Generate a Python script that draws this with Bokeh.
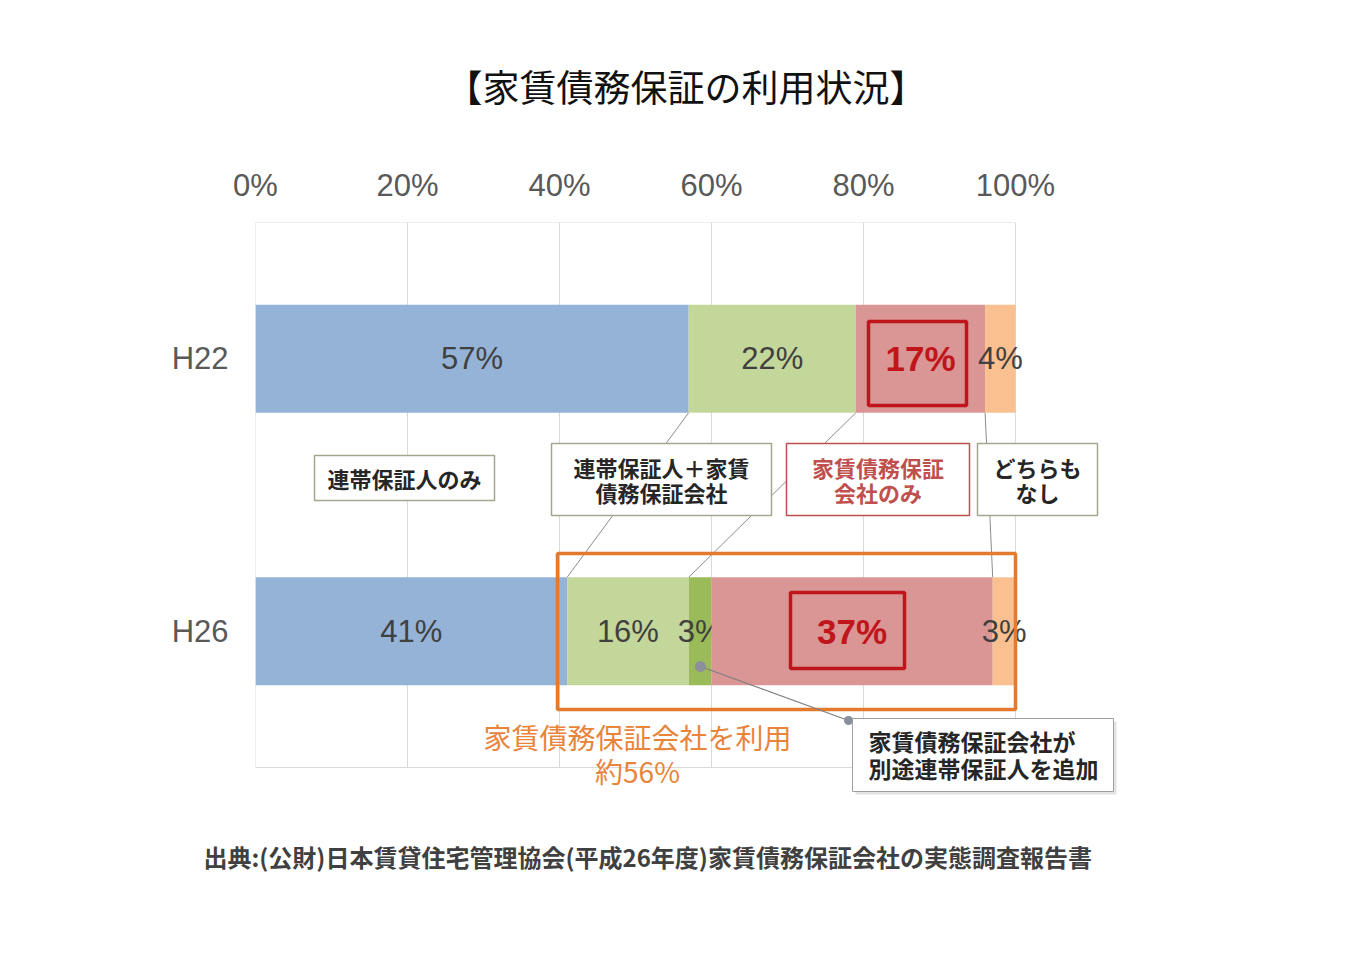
from bokeh.plotting import figure
from bokeh.models import Range1d, FixedTicker, NumeralTickFormatter, Title
from bokeh.core.properties import value
from bokeh.embed import file_html
from bokeh.resources import INLINE

# ---------------- data ----------------
categories = ["H22", "H26"]
series_names = ["連帯保証人のみ", "連帯保証人＋家賃債務保証会社", "家賃債務保証会社が別途連帯保証人を追加",
                "家賃債務保証会社のみ", "どちらもなし"]
h22_values = [57, 22, 0, 17, 4]
h26_values = [41, 16, 3, 37, 3]
series_colors = ["#95b3d7", "#c4d79b", "#9bbb59", "#d99694", "#fac090"]
x_ticks = [0, 0.2, 0.4, 0.6, 0.8, 1.0]
highlight_series = 3

title_text = "【家賃債務保証の利用状況】"
source_text = "出典:(公財)日本賃貸住宅管理協会(平成26年度)家賃債務保証会社の実態調査報告書"
box_texts = ["連帯保証人のみ", "連帯保証人＋家賃\n債務保証会社", "家賃債務保証\n会社のみ", "どちらも\nなし"]
orange_text = "家賃債務保証会社を利用\n約56%"
callout_text = "家賃債務保証会社が\n別途連帯保証人を追加"

W, H = 1356, 958
JP = "Noto Sans CJK JP"
NUM = "Liberation Sans"

# pixel -> data helpers for annotation placement
def X(px):
    return (px - 255) / 760.0

def Y(py):
    return (767 - py) / 272.5

p = figure(width=W, height=H, output_backend="svg", toolbar_location=None,
           x_axis_location="above",
           x_range=Range1d(0, 1.25), y_range=Range1d(-(800 - 767) / 272.5, 2.0),
           min_border_left=255, min_border_right=151, min_border_top=222, min_border_bottom=158)
p.outline_line_color = None
p.background_fill_color = "white"
p.border_fill_color = "white"
p.grid.visible = False

xa = p.xaxis[0]
xa.ticker = FixedTicker(ticks=x_ticks)
xa.formatter = NumeralTickFormatter(format="0%")
xa.axis_line_color = None
xa.major_tick_line_color = None
xa.minor_tick_line_color = None
xa.major_tick_out = 0
xa.major_tick_in = 0
xa.major_label_text_font = NUM
xa.major_label_text_font_size = "31px"
xa.major_label_text_color = "#595959"
xa.major_label_standoff = 20

ya = p.yaxis[0]
n = len(categories)
ypos = [n - i - 0.5 for i in range(n)]
ya.ticker = FixedTicker(ticks=ypos)
ya.major_label_overrides = {ypos[i]: categories[i] for i in range(n)}
ya.axis_line_color = None
ya.major_tick_line_color = None
ya.minor_tick_line_color = None
ya.major_tick_out = 0
ya.major_tick_in = 0
ya.major_label_text_font = NUM
ya.major_label_text_font_size = "31px"
ya.major_label_text_color = "#595959"
ya.major_label_standoff = 27

# title (above) and source (below)
t = Title(text=title_text, align="left", offset=190, standoff=104, text_font=JP,
          text_font_size="37px", text_font_style="normal", text_color="#111111")
p.add_layout(t, "above")
s = Title(text=source_text, align="left", offset=-52, standoff=72, text_font=JP,
          text_font_size="24px", text_font_style="bold", text_color="#404040")
p.add_layout(s, "below")

# gridlines and frame (within chart area only)
p.segment(x0=x_ticks, y0=[0] * len(x_ticks), x1=x_ticks, y1=[2] * len(x_ticks),
          line_color="#d9d9d9", line_width=1)
p.segment(x0=[0, 0], y0=[0, 2], x1=[1, 1], y1=[0, 2], line_color="#d9d9d9", line_width=1)

bar_h = 0.396
rows = [h22_values, h26_values]

# series connector lines (Excel-style), skipped for series absent in a year
cums = []
for vals in rows:
    c, acc = [], 0
    for v in vals:
        acc += v
        c.append(acc)
    cums.append(c)
cx0, cy0, cx1, cy1 = [], [], [], []
for j in range(len(series_names) - 1):
    if rows[0][j] == 0 or rows[1][j] == 0:
        continue
    cx0.append(cums[0][j] / 100)
    cy0.append(ypos[0] - bar_h / 2)
    cx1.append(cums[1][j] / 100)
    cy1.append(ypos[1] + bar_h / 2)
p.segment(x0=cx0, y0=cy0, x1=cx1, y1=cy1, line_color="#8c8c8c", line_width=1)

# bars + labels
for i, vals in enumerate(rows):
    left = 0
    for j, v in enumerate(vals):
        if v > 0:
            p.hbar(y=[ypos[i]], left=[left / 100], right=[(left + v) / 100], height=bar_h,
                   fill_color=series_colors[j], line_color=None)
            mid = (left + v / 2) / 100
            if j == highlight_series:
                p.text(x=[mid], y=[ypos[i]], text=[f"{v}%"], text_font=value(NUM),
                       text_font_style="bold", text_font_size="35px", text_color="#c0151b",
                       text_align="center", text_baseline="middle")
            else:
                p.text(x=[mid], y=[ypos[i]], text=[f"{v}%"], text_font=value(NUM),
                       text_font_size="31px", text_color="#404040",
                       text_align="center", text_baseline="middle")
        left += v

# red highlight boxes
p.quad(left=[X(868), X(790)], right=[X(966), X(904)], bottom=[Y(405), Y(668)], top=[Y(321), Y(592)],
       fill_color=None, line_color="#c0151b", line_width=3.5)

# legend boxes
bx_l = [314, 551, 786, 977]
bx_r = [494, 771, 969, 1097]
bx_t = [455, 443, 443, 443]
bx_b = [500, 515, 515, 515]
bx_line = ["#a6a68e", "#a6a68e", "#c0504d", "#a6a68e"]
bx_text_col = ["#262626", "#262626", "#c0504d", "#262626"]
for k in range(4):
    p.quad(left=[X(bx_l[k])], right=[X(bx_r[k])], top=[Y(bx_t[k])], bottom=[Y(bx_b[k])],
           fill_color="white", line_color=bx_line[k], line_width=1.5)
    p.text(x=[X((bx_l[k] + bx_r[k]) / 2)], y=[Y((bx_t[k] + bx_b[k]) / 2)], text=[box_texts[k]],
           text_font=value(JP), text_font_style="bold", text_font_size="22px",
           text_color=bx_text_col[k], text_align="center", text_baseline="middle",
           text_line_height=0.8)

# orange box
p.quad(left=[X(557)], right=[X(1015)], top=[Y(553)], bottom=[Y(709)],
       fill_color=None, line_color="#e47a2e", line_width=3.5)
p.text(x=[X(637)], y=[Y(753)], text=[orange_text], text_font=value(JP), text_font_size="28px",
       text_color="#e8843c", text_align="center", text_baseline="middle", text_line_height=0.85)

# callout
p.segment(x0=[X(700)], y0=[Y(666)], x1=[X(848)], y1=[Y(720)], line_color="#7f7f7f", line_width=1.2)
p.scatter(x=[X(700), X(848)], y=[Y(666), Y(720)], size=[11, 9], marker="circle",
          fill_color="#8a8f99", line_color=None)
p.quad(left=[X(855)], right=[X(1116)], top=[Y(721)], bottom=[Y(794)],
       fill_color="#d0d0d0", line_color=None, fill_alpha=0.6)
p.quad(left=[X(852)], right=[X(1113)], top=[Y(718)], bottom=[Y(791)],
       fill_color="white", line_color="#a0a0a0", line_width=1)
p.text(x=[X(868)], y=[Y(754)], text=[callout_text], text_font=value(JP), text_font_style="bold",
       text_font_size="23px", text_color="#262626", text_align="left", text_baseline="middle",
       text_line_height=0.82)

open("out.html", "w").write(file_html(p, INLINE))
